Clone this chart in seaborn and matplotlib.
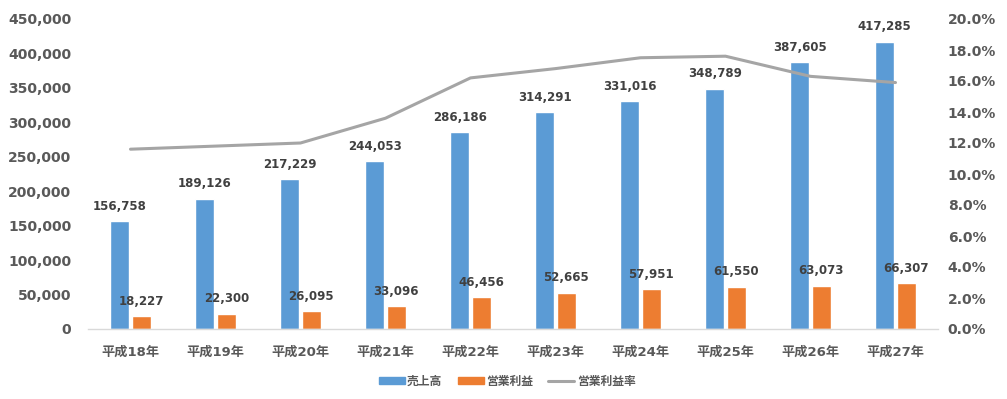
import matplotlib
matplotlib.use("Agg")
import matplotlib.pyplot as plt
import matplotlib.ticker as mticker
from matplotlib.patches import Patch
from matplotlib.lines import Line2D
import seaborn as sns
import pandas as pd
import numpy as np

years = ["平成18年", "平成19年", "平成20年", "平成21年", "平成22年",
         "平成23年", "平成24年", "平成25年", "平成26年", "平成27年"]
sales = [156758, 189126, 217229, 244053, 286186, 314291, 331016, 348789, 387605, 417285]
op_profit = [18227, 22300, 26095, 33096, 46456, 52665, 57951, 61550, 63073, 66307]
op_margin = [11.6, 11.8, 12.0, 13.6, 16.2, 16.8, 17.5, 17.6, 16.3, 15.9]

series_names = ["売上高", "営業利益", "営業利益率"]
colors = ["#5B9BD5", "#ED7D31", "#A5A5A5"]

sns.set_theme(style="white")
plt.rcParams['font.family'] = ['DejaVu Sans', 'Noto Sans CJK JP']
plt.rcParams['font.weight'] = 'bold'

df = pd.DataFrame({
    "year": years * 2,
    "value": sales + op_profit,
    "series": [series_names[0]] * len(years) + [series_names[1]] * len(years),
})

fig = plt.figure(figsize=(10.07, 3.99), dpi=100)
ax = fig.add_axes([88/1007, 1 - 329/399, 850/1007, 310/399])

sns.barplot(data=df, x="year", y="value", hue="series", palette=colors[:2],
            width=0.506, gap=0.12, ax=ax, legend=False, saturation=1)

tick_color = "#595959"
ax.set_ylim(0, 450000)
ax.set_xlim(-0.5, len(years) - 0.5)
ax.yaxis.set_major_locator(mticker.MultipleLocator(50000))
ax.yaxis.set_major_formatter(mticker.FuncFormatter(lambda v, p: f"{v:,.0f}"))
ax.set_xlabel("")
ax.set_ylabel("")
for s in ["top", "right", "left"]:
    ax.spines[s].set_visible(False)
ax.spines["bottom"].set_color("#D9D9D9")
ax.spines["bottom"].set_linewidth(1)
ax.tick_params(axis="y", length=0, pad=12, labelsize=10, labelcolor=tick_color)
ax.tick_params(axis="x", length=0, pad=12, labelsize=9.5, labelcolor=tick_color)
for lab in ax.get_xticklabels() + ax.get_yticklabels():
    lab.set_fontweight("bold")

for cont in ax.containers:
    ax.bar_label(cont, fmt="{:,.0f}", padding=6, fontsize=8.5,
                 color="#404040", fontweight="bold")

ax2 = ax.twinx()
ax2.set_position(ax.get_position())
sns.lineplot(x=np.arange(len(years)), y=op_margin, ax=ax2, color=colors[2],
             linewidth=2.2, legend=False)
ax2.set_ylim(0, 20)
ax2.yaxis.set_major_locator(mticker.MultipleLocator(2))
ax2.yaxis.set_major_formatter(mticker.FuncFormatter(lambda v, p: f"{v:.1f}%"))
for s in ["top", "right", "left", "bottom"]:
    ax2.spines[s].set_visible(False)
ax2.tick_params(axis="y", length=0, pad=7, labelsize=10, labelcolor=tick_color)
ax2.set_ylabel("")
for lab in ax2.get_yticklabels():
    lab.set_fontweight("bold")
ax2.grid(False)
ax.grid(False)

handles = [Patch(color=colors[0]), Patch(color=colors[1]),
           Line2D([0], [0], color=colors[2], linewidth=2.2)]
leg = fig.legend(handles, series_names, loc="center", ncol=3,
                 bbox_to_anchor=(507/1007, 1 - 381/399), frameon=False,
                 prop={"size": 8.5, "weight": "bold"}, handlelength=2.2,
                 handleheight=0.55, handletextpad=0.2, columnspacing=1.3)
for t in leg.get_texts():
    t.set_color(tick_color)

fig.savefig("out.png", dpi=100)
